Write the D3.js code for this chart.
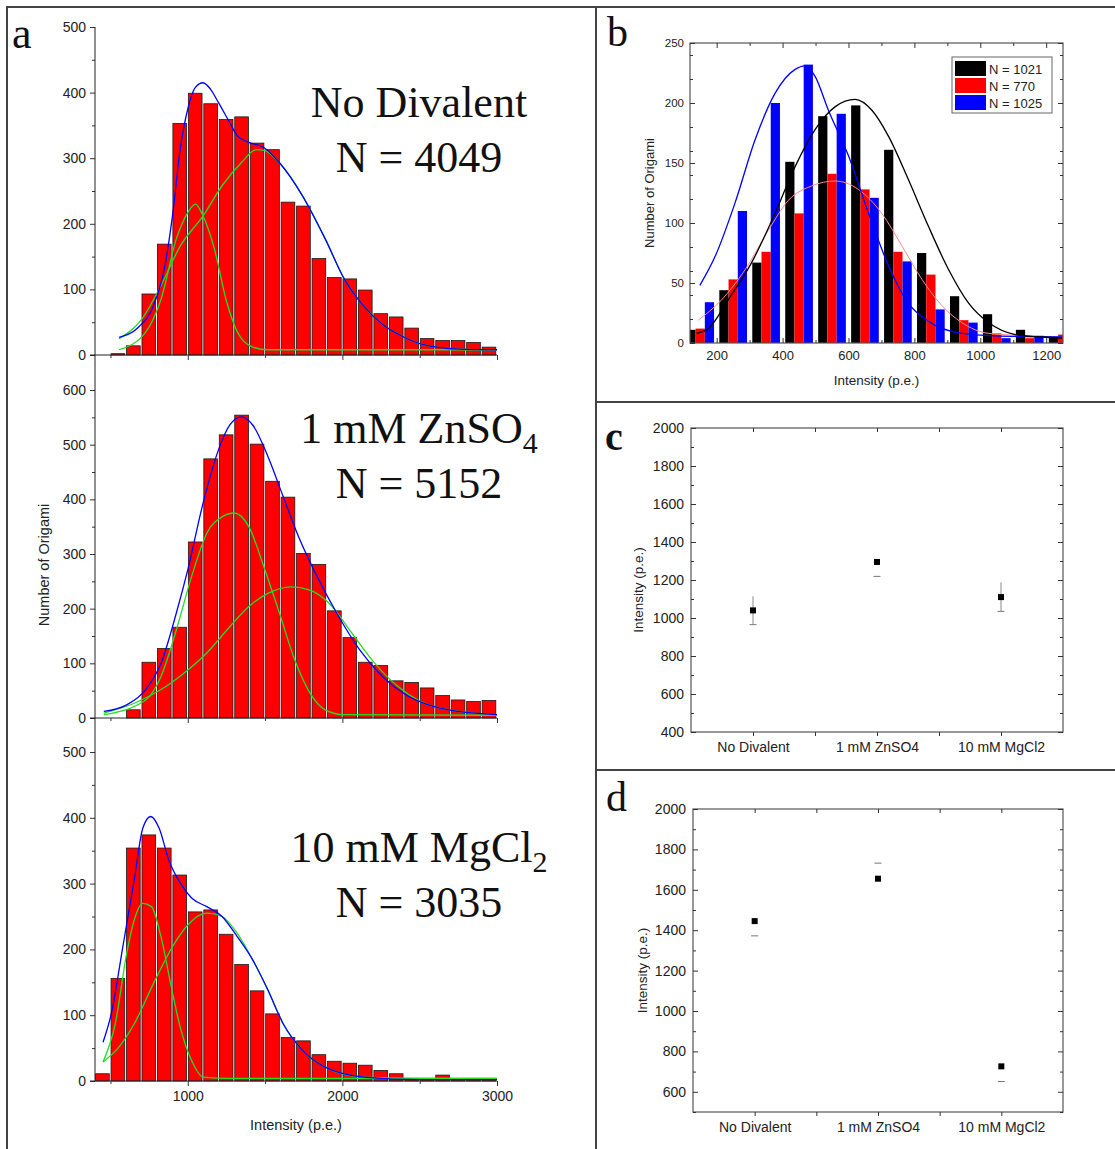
<!DOCTYPE html>
<html>
<head>
<meta charset="utf-8">
<script src="https://cdn.jsdelivr.net/npm/d3@7"></script>
<style>
  body { margin: 0; background: #fff; }
  svg { display: block; }
</style>
</head>
<body>
<svg id="fig"></svg>
<script>
// ---- data ----
// panel a: histogram bins (bin start, width 100 p.e.)
const binStartsA = [400, 500, 600, 700, 800, 900, 1000, 1100, 1200, 1300, 1400, 1500, 1600,
                    1700, 1800, 1900, 2000, 2100, 2200, 2300, 2400, 2500, 2600, 2700, 2800, 2900];
const countsNoDiv = [0, 2, 14, 93, 169, 353, 399, 383, 359, 363, 323, 313, 233,
                     227, 147, 118, 116, 99, 63, 58, 41, 25, 22, 22, 19, 12];
const countsZn = [0, 0, 15, 102, 127, 166, 322, 474, 518, 554, 501, 433, 404,
                  301, 281, 196, 147, 102, 96, 68, 65, 55, 41, 33, 30, 32];
const countsMg = [11, 156, 354, 374, 354, 313, 257, 260, 223, 177, 137, 102, 66,
                  61, 40, 30, 27, 24, 16, 11, 4, 4, 9, 2, 4, 3];

// fitted curves [intensity, count]
const fitNoDiv = [[556,27],[679,42],[778,75],[852,136],[901,212],[951,314],[1000,375],[1049,408],
  [1099,415],[1148,405],[1198,385],[1272,354],[1321,334],[1395,324],[1494,316],[1593,293],
  [1741,243],[1889,177],[2012,116],[2136,75],[2259,47],[2383,29],[2506,17],[2753,9],[3000,8]];
const gaussNoDiv1 = [[556,8],[728,35],[827,85],[926,177],[1000,217],[1049,230],[1099,212],[1173,161],
  [1247,85],[1321,35],[1420,12],[1519,8],[2000,8],[3000,8]];
const gaussNoDiv2 = [[556,25],[704,55],[827,106],[951,166],[1099,212],[1222,258],[1346,293],[1444,313],
  [1494,312],[1593,293],[1741,243],[1889,177],[2012,116],[2136,75],[2259,47],[2383,29],[2506,17],
  [2753,9],[3000,8]];

const fitZn = [[457,12],[605,24],[728,52],[827,100],[926,192],[1000,271],[1099,393],[1198,490],
  [1272,536],[1346,551],[1420,536],[1519,478],[1617,405],[1716,332],[1815,271],[1963,192],
  [2111,125],[2259,76],[2407,43],[2556,24],[2753,12],[3000,6]];
const gaussZn1 = [[457,6],[728,33],[827,76],[926,161],[1025,259],[1123,338],[1222,368],[1301,375],
  [1395,350],[1494,275],[1593,192],[1691,107],[1790,46],[1889,15],[2012,6],[3000,5]];
const gaussZn2 = [[457,9],[654,27],[827,52],[975,82],[1123,119],[1272,167],[1395,204],[1519,228],
  [1667,240],[1790,234],[1914,210],[2062,155],[2210,100],[2358,58],[2506,30],[2753,12],[3000,6]];

const fitMg = [[452,59],[506,103],[580,204],[654,306],[709,384],[760,402],[815,384],[877,336],
  [951,301],[1025,278],[1123,265],[1222,250],[1321,219],[1420,184],[1519,138],[1617,87],
  [1741,47],[1889,21],[2136,6],[2506,2],[3000,2]];
const gaussMg1 = [[452,29],[531,87],[605,194],[654,245],[709,270],[765,265],[827,219],[889,148],
  [951,82],[1025,31],[1099,6],[1272,4],[3000,4]];
const gaussMg2 = [[452,29],[556,52],[654,87],[778,148],[901,204],[1000,237],[1123,255],[1222,250],
  [1321,224],[1420,184],[1519,138],[1617,87],[1741,47],[1889,21],[2136,6],[2506,4],[3000,4]];

// panel b: grouped histogram (bin centres, 100 p.e. bins)
const binCentersB = [150, 250, 350, 450, 550, 650, 750, 850, 950, 1050, 1150, 1250];
const seriesB = ['N = 1021', 'N = 770', 'N = 1025'];
const countsB1021 = [11, 44, 67, 151, 189, 198, 161, 75, 39, 24, 11, 5];
const countsB770 = [12, 53, 76, 108, 141, 128, 76, 57, 19, 8, 4, 7];
const countsB1025 = [34, 110, 200, 232, 191, 121, 68, 28, 17, 4, 6, 5];
const fitB1021 = [[139,8],[175,12],[235,36],[306,67],[377,108],[438,147],[499,178],[560,197],
  [620,203],[671,194],[722,172],[782,136],[843,97],[904,61],[965,33],[1025,17],[1106,7],[1187,5],[1248,4]];
const fitB770 = [[144,19],[215,36],[286,61],[357,94],[418,119],[489,131],[560,135],[630,128],
  [701,108],[762,81],[823,53],[884,31],[944,17],[1025,8],[1147,6],[1248,5]];
const fitB1025 = [[149,48],[195,72],[256,117],[316,169],[377,208],[438,228],[468,231],[499,222],
  [539,194],[600,156],[661,108],[722,64],[782,33],[843,18],[944,8],[1046,6],[1248,5]];

// panels c, d: mean intensity per condition
const conditions = ['No Divalent', '1 mM ZnSO4', '10 mM MgCl2'];
const meansC = [1040, 1295, 1110];
const capsC = [965, 1219, 1035];
const barTopC = [1114, null, 1188];
const meansD = [1445, 1655, 726];
const capsD = [1372, 1732, 651];

// ---- drawing ----
const sans = "'Liberation Sans', Arial, Helvetica, sans-serif";
const serif = "'Liberation Serif', 'Times New Roman', Times, serif";
const W = 1115, H = 1149;

const svg = d3.select('#fig').attr('width', W).attr('height', H);

// frame lines
const frame = [[6,7,1115,7],[7,7,7,H],[596,7,596,H],[596,402,1115,402],[596,770,1115,770]];
svg.selectAll('line.frame').data(frame).join('line')
  .attr('class','frame')
  .attr('x1', d => d[0]).attr('y1', d => d[1]).attr('x2', d => d[2]).attr('y2', d => d[3])
  .attr('stroke', '#444').attr('stroke-width', 2);

function styleAxis(g, size) {
  g.attr('font-family', sans).attr('font-size', size);
  g.selectAll('text').attr('fill', '#222');
  g.selectAll('line').attr('stroke', '#333');
  g.select('.domain').remove();
}

// ---------- panel a ----------
const xA = d3.scaleLinear().domain([400, 3000]).range([95, 497]);

function histPanel(cfg) {
  const g = svg.append('g');
  const y = d3.scaleLinear().domain([0, cfg.yMax]).range([cfg.y0, cfg.yTop]);

  const bars = binStartsA.map((b, i) => ({ b: b, v: cfg.counts[i] })).filter(d => d.v > 0);
  g.selectAll('rect').data(bars).join('rect')
    .attr('x', d => xA(d.b) + 0.6)
    .attr('width', d => xA(d.b + 100) - xA(d.b) - 1.8)
    .attr('y', d => y(d.v))
    .attr('height', d => y(0) - y(d.v))
    .attr('fill', '#ff0000')
    .attr('stroke', '#1a1a1a')
    .attr('stroke-width', 0.8);

  const line = d3.line().x(d => xA(d[0])).y(d => y(d[1])).curve(d3.curveMonotoneX);
  [cfg.g1, cfg.g2].forEach(c => {
    g.append('path').attr('d', line(c)).attr('fill', 'none')
      .attr('stroke', '#22dd22').attr('stroke-width', 1.3);
  });
  g.append('path').attr('d', line(cfg.fit)).attr('fill', 'none')
    .attr('stroke', '#0000ff').attr('stroke-width', 1.3);

  // y axis
  g.append('g').attr('transform', 'translate(95,0)')
    .call(d3.axisLeft(y).ticks(cfg.yMax / 100).tickSize(5).tickPadding(4))
    .call(a => styleAxis(a, 14));
  g.append('g').attr('transform', 'translate(95,0)')
    .call(d3.axisLeft(y).tickValues(y.ticks(cfg.yMax / 50).filter(v => v % 100 !== 0))
      .tickSize(3).tickFormat(''))
    .call(a => styleAxis(a, 14));

  // x axis
  g.append('line').attr('x1', 90).attr('x2', xA(3000)).attr('y1', cfg.y0).attr('y2', cfg.y0)
    .attr('stroke', '#222').attr('stroke-width', 1);
  g.append('g').attr('transform', `translate(0,${cfg.y0})`)
    .call(d3.axisBottom(xA).tickValues([1000, 2000, 3000]).tickSize(5).tickPadding(5)
      .tickFormat(cfg.xLabels ? d3.format('d') : ''))
    .call(a => styleAxis(a, 14));
  g.append('g').attr('transform', `translate(0,${cfg.y0})`)
    .call(d3.axisBottom(xA).tickValues([500, 1500, 2500]).tickSize(3).tickFormat(''))
    .call(a => styleAxis(a, 14));

  // condition label
  const t1 = g.append('text').attr('x', 419).attr('y', cfg.labelY)
    .attr('text-anchor', 'middle').attr('font-family', serif).attr('font-size', 44).attr('fill', '#111');
  t1.append('tspan').text(cfg.label);
  if (cfg.sub) t1.append('tspan').attr('font-size', 30).attr('dy', 10).text(cfg.sub);
  g.append('text').attr('x', 419).attr('y', cfg.labelY + 55)
    .attr('text-anchor', 'middle').attr('font-family', serif).attr('font-size', 44).attr('fill', '#111')
    .text(cfg.n);
}

histPanel({ counts: countsNoDiv, fit: fitNoDiv, g1: gaussNoDiv1, g2: gaussNoDiv2,
  yMax: 500, y0: 355, yTop: 27, xLabels: false, label: 'No Divalent', n: 'N = 4049', labelY: 117 });
histPanel({ counts: countsZn, fit: fitZn, g1: gaussZn1, g2: gaussZn2,
  yMax: 600, y0: 718, yTop: 390, xLabels: false, label: '1 mM ZnSO', sub: '4', n: 'N = 5152', labelY: 443 });
histPanel({ counts: countsMg, fit: fitMg, g1: gaussMg1, g2: gaussMg2,
  yMax: 500, y0: 1081, yTop: 752, xLabels: true, label: '10 mM MgCl', sub: '2', n: 'N = 3035', labelY: 862 });

// continuous left spine for the stacked histograms
svg.append('line').attr('x1', 95).attr('x2', 95).attr('y1', 27).attr('y2', 1081)
  .attr('stroke', '#222').attr('stroke-width', 1);

svg.append('text').attr('transform', 'translate(49,565) rotate(-90)')
  .attr('text-anchor', 'middle').attr('font-family', sans).attr('font-size', 14.5).attr('fill', '#222')
  .text('Number of Origami');
svg.append('text').attr('x', 296).attr('y', 1130)
  .attr('text-anchor', 'middle').attr('font-family', sans).attr('font-size', 14.5).attr('fill', '#222')
  .text('Intensity (p.e.)');

// ---------- panel b ----------
const bBox = { x0: 690, x1: 1063, y0: 43, y1: 343 };
const xB = d3.scaleLinear().domain([119, 1251]).range([bBox.x0, bBox.x1]);
const yB = d3.scaleLinear().domain([0, 250]).range([bBox.y1, bBox.y0]);
const colorB = d3.scaleOrdinal().domain(seriesB).range(['#000000', '#ff0000', '#0000ff']);
const countsB = [countsB1021, countsB770, countsB1025];
const subWidth = 28; // p.e. per sub-bar

svg.append('clipPath').attr('id', 'clipB').append('rect')
  .attr('x', bBox.x0).attr('y', bBox.y0).attr('width', bBox.x1 - bBox.x0).attr('height', bBox.y1 - bBox.y0);
const gB = svg.append('g');
const plotB = gB.append('g').attr('clip-path', 'url(#clipB)');

seriesB.forEach((s, si) => {
  plotB.selectAll(`rect.s${si}`)
    .data(binCentersB.map((c, i) => ({ c: c, v: countsB[si][i] })))
    .join('rect').attr('class', `s${si}`)
    .attr('x', d => xB(d.c + (si - 1) * subWidth - subWidth / 2))
    .attr('width', xB(subWidth) - xB(0))
    .attr('y', d => yB(d.v))
    .attr('height', d => yB(0) - yB(d.v))
    .attr('fill', colorB(s));
});

const lineB = d3.line().x(d => xB(d[0])).y(d => yB(d[1])).curve(d3.curveMonotoneX);
plotB.append('path').attr('d', lineB(fitB770)).attr('fill', 'none')
  .attr('stroke', '#ff8a8a').attr('stroke-width', 1);
plotB.append('path').attr('d', lineB(fitB1025)).attr('fill', 'none')
  .attr('stroke', '#0000ff').attr('stroke-width', 1.3);
plotB.append('path').attr('d', lineB(fitB1021)).attr('fill', 'none')
  .attr('stroke', '#000000').attr('stroke-width', 1.3);

gB.append('rect').attr('x', bBox.x0).attr('y', bBox.y0)
  .attr('width', bBox.x1 - bBox.x0).attr('height', bBox.y1 - bBox.y0)
  .attr('fill', 'none').attr('stroke', '#555').attr('stroke-width', 1.2);

const xBmajor = [200, 400, 600, 800, 1000, 1200];
const xBminor = [100, 300, 500, 700, 900, 1100];
gB.append('g').attr('transform', `translate(0,${bBox.y1})`)
  .call(d3.axisBottom(xB).tickValues(xBmajor).tickSize(-5).tickPadding(8).tickFormat(d3.format('d')))
  .call(a => styleAxis(a, 13));
gB.append('g').attr('transform', `translate(0,${bBox.y1})`)
  .call(d3.axisBottom(xB).tickValues(xBminor.filter(v => v > 119)).tickSize(-3).tickFormat(''))
  .call(a => styleAxis(a, 13));
gB.append('g').attr('transform', `translate(0,${bBox.y0})`)
  .call(d3.axisTop(xB).tickValues(xBmajor).tickSize(-5).tickFormat(''))
  .call(a => styleAxis(a, 13));
gB.append('g').attr('transform', `translate(0,${bBox.y0})`)
  .call(d3.axisTop(xB).tickValues(xBminor.filter(v => v > 119)).tickSize(-3).tickFormat(''))
  .call(a => styleAxis(a, 13));
gB.append('g').attr('transform', `translate(${bBox.x0},0)`)
  .call(d3.axisLeft(yB).ticks(5).tickSize(-5).tickPadding(6))
  .call(a => styleAxis(a, 11.5));
gB.append('g').attr('transform', `translate(${bBox.x0},0)`)
  .call(d3.axisLeft(yB).tickValues(yB.ticks(10).filter(v => v % 50 !== 0)).tickSize(-3).tickFormat(''))
  .call(a => styleAxis(a, 11.5));
gB.append('g').attr('transform', `translate(${bBox.x1},0)`)
  .call(d3.axisRight(yB).ticks(5).tickSize(-5).tickFormat(''))
  .call(a => styleAxis(a, 11.5));
gB.append('g').attr('transform', `translate(${bBox.x1},0)`)
  .call(d3.axisRight(yB).tickValues(yB.ticks(10).filter(v => v % 50 !== 0)).tickSize(-3).tickFormat(''))
  .call(a => styleAxis(a, 11.5));

gB.append('text').attr('transform', `translate(654,${(bBox.y0 + bBox.y1) / 2}) rotate(-90)`)
  .attr('text-anchor', 'middle').attr('font-family', sans).attr('font-size', 13).attr('fill', '#222')
  .text('Number of Origami');
gB.append('text').attr('x', (bBox.x0 + bBox.x1) / 2).attr('y', 385)
  .attr('text-anchor', 'middle').attr('font-family', sans).attr('font-size', 13.5).attr('fill', '#222')
  .text('Intensity (p.e.)');

// legend
const leg = gB.append('g').attr('transform', 'translate(952,57)');
leg.append('rect').attr('width', 100).attr('height', 56)
  .attr('fill', '#fff').attr('stroke', '#666').attr('stroke-width', 1);
seriesB.forEach((s, i) => {
  leg.append('rect').attr('x', 3).attr('y', 4 + i * 17).attr('width', 31).attr('height', 15)
    .attr('fill', colorB(s));
  leg.append('text').attr('x', 37).attr('y', 16.5 + i * 17)
    .attr('font-family', sans).attr('font-size', 13).attr('fill', '#222').text(s);
});

// ---------- panels c and d ----------
function meanPanel(cfg) {
  const g = svg.append('g');
  const x = d3.scaleLinear().domain([-0.5, 2.5]).range([cfg.x0, cfg.x1]);
  const y = d3.scaleLinear().domain(cfg.yDomain).range([cfg.y1, cfg.y0]);

  g.append('rect').attr('x', cfg.x0).attr('y', cfg.y0)
    .attr('width', cfg.x1 - cfg.x0).attr('height', cfg.y1 - cfg.y0)
    .attr('fill', 'none').attr('stroke', '#555').attr('stroke-width', 1.2);

  const major = y.ticks(8);
  const minor = y.ticks(15).filter(v => v % 200 !== 0);
  g.append('g').attr('transform', `translate(${cfg.x0},0)`)
    .call(d3.axisLeft(y).tickValues(major).tickSize(-5).tickPadding(7).tickFormat(d3.format('d')))
    .call(a => styleAxis(a, 14));
  g.append('g').attr('transform', `translate(${cfg.x0},0)`)
    .call(d3.axisLeft(y).tickValues(minor).tickSize(-3).tickFormat(''))
    .call(a => styleAxis(a, 14));
  g.append('g').attr('transform', `translate(${cfg.x1},0)`)
    .call(d3.axisRight(y).tickValues(major).tickSize(-5).tickFormat(''))
    .call(a => styleAxis(a, 14));
  g.append('g').attr('transform', `translate(${cfg.x1},0)`)
    .call(d3.axisRight(y).tickValues(minor).tickSize(-3).tickFormat(''))
    .call(a => styleAxis(a, 14));
  g.append('g').attr('transform', `translate(0,${cfg.y1})`)
    .call(d3.axisBottom(x).tickValues([0, 1, 2]).tickSize(4).tickPadding(6).tickFormat(i => conditions[i]))
    .call(a => styleAxis(a, 14));
  g.append('g').attr('transform', `translate(0,${cfg.y1})`)
    .call(d3.axisBottom(x).tickValues([0.5, 1.5]).tickSize(4).tickFormat(''))
    .call(a => styleAxis(a, 14));
  g.append('g').attr('transform', `translate(0,${cfg.y0})`)
    .call(d3.axisTop(x).tickValues([0, 1, 2, 0.5, 1.5]).tickSize(-4).tickFormat(''))
    .call(a => styleAxis(a, 14));

  const pts = cfg.means.map((m, i) => ({ i: i, m: m, cap: cfg.caps[i], top: cfg.tops ? cfg.tops[i] : null }));
  g.selectAll('line.err').data(pts.filter(d => d.top !== null)).join('line')
    .attr('class', 'err')
    .attr('x1', d => x(d.i)).attr('x2', d => x(d.i))
    .attr('y1', d => y(d.cap)).attr('y2', d => y(d.top))
    .attr('stroke', '#8a8a8a').attr('stroke-width', 1);
  g.selectAll('line.cap').data(pts).join('line')
    .attr('class', 'cap')
    .attr('x1', d => x(d.i) - 3.5).attr('x2', d => x(d.i) + 3.5)
    .attr('y1', d => y(d.cap)).attr('y2', d => y(d.cap))
    .attr('stroke', '#777').attr('stroke-width', 1);
  g.selectAll('rect.pt').data(pts).join('rect')
    .attr('class', 'pt')
    .attr('x', d => x(d.i) - 3).attr('y', d => y(d.m) - 3)
    .attr('width', 6).attr('height', 6).attr('fill', '#000');

  g.append('text').attr('transform', `translate(${cfg.labelX},${(cfg.y0 + cfg.y1) / 2 + 10}) rotate(-90)`)
    .attr('text-anchor', 'middle').attr('font-family', sans).attr('font-size', 13.5).attr('fill', '#222')
    .text('Intensity (p.e.)');
}

meanPanel({ x0: 691, x1: 1063, y0: 428, y1: 732, yDomain: [400, 2000],
  means: meansC, caps: capsC, tops: barTopC, labelX: 643 });
meanPanel({ x0: 693, x1: 1063, y0: 809, y1: 1112, yDomain: [500, 2000],
  means: meansD, caps: capsD, tops: null, labelX: 647 });

// panel letters
const letters = [
  { t: 'a', x: 12, y: 48, w: 'normal', s: 44 },
  { t: 'b', x: 607, y: 46, w: 'normal', s: 42 },
  { t: 'c', x: 605, y: 450, w: 'bold', s: 40 },
  { t: 'd', x: 606, y: 811, w: 'normal', s: 42 }
];
svg.selectAll('text.letter').data(letters).join('text')
  .attr('class', 'letter')
  .attr('x', d => d.x).attr('y', d => d.y)
  .attr('font-family', serif).attr('font-size', d => d.s).attr('font-weight', d => d.w)
  .attr('fill', '#111').text(d => d.t);
</script>
</body>
</html>
